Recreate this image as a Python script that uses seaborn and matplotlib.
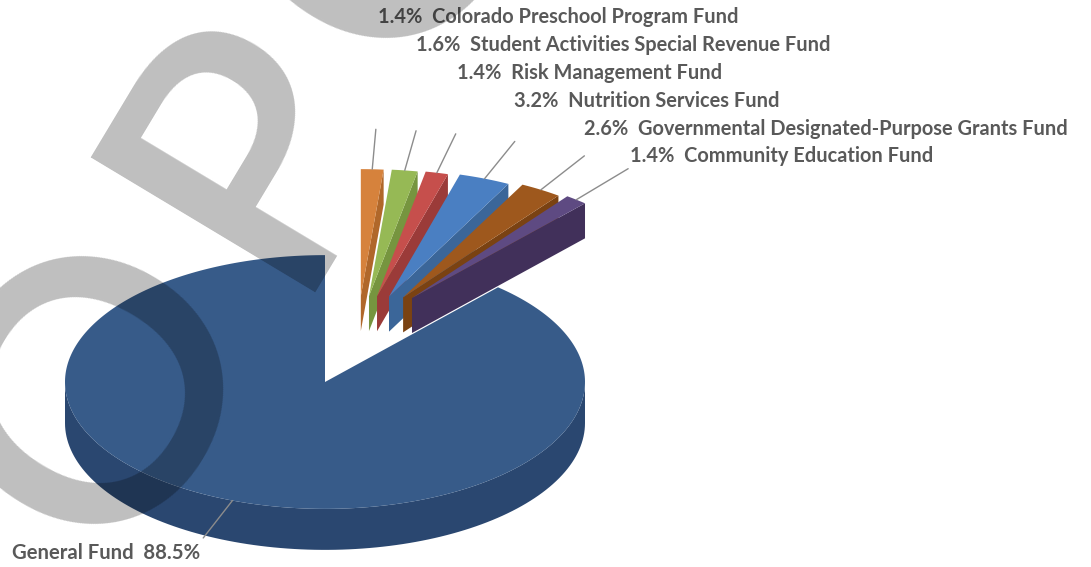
import numpy as np
import matplotlib
matplotlib.use("Agg")
import matplotlib.pyplot as plt
from matplotlib.patches import Polygon
from matplotlib.textpath import TextPath
from matplotlib.font_manager import FontProperties
import seaborn as sns

# Budget share by fund, in clockwise order starting at 12 o'clock
funds = [
    "Colorado Preschool Program Fund",
    "Student Activities Special Revenue Fund",
    "Risk Management Fund",
    "Nutrition Services Fund",
    "Governmental Designated-Purpose Grants Fund",
    "Community Education Fund",
    "General Fund",
]
shares = [1.4, 1.6, 1.4, 3.2, 2.6, 1.4, 88.5]

top_colors = ["#d6823c", "#96b955", "#c64f4c", "#4a7fc2", "#9e581d", "#5e4a82", "#375b89"]
side_colors = ["#b0672a", "#76953f", "#9b3b39", "#3b6699", "#7a4212", "#41305a", "#2a4770"]

sns.set_theme(style="white")
plt.rcParams["font.family"] = ["Lato", "DejaVu Sans"]

W, H = 1091, 567
fig = plt.figure(figsize=(W / 100, H / 100), dpi=100)
ax = fig.add_axes([0, 0, 1, 1])
ax.set_xlim(0, W)
ax.set_ylim(H, 0)
ax.axis("off")

# 3-D pie projection parameters (screen units)
cx, cy = 325.0, 382.0
R = 260.0
K = 0.488          # vertical squash of the tilted disc
DEPTH = 41.0       # thickness of the main disc
DEPTH_EX = 35.0    # thickness of the pulled-out slices
LEADER = 82.0


def proj(r, a, ox=0.0, oy=0.0, z=0.0):
    a = np.radians(a)
    return np.column_stack([cx + ox + r * np.cos(a), cy + oy - r * K * np.sin(a) + z])


total = float(sum(shares))
sweeps = [s / total * 360.0 for s in shares]
starts = 90.0 - np.concatenate([[0.0], np.cumsum(sweeps)[:-1]])
ends = starts - np.array(sweeps)

label_color = "#595959"
label_pos = [(378, 17), (416, 45), (457, 73), (514, 101), (584, 129), (630, 156)]

# pulled-out slices
for i in range(len(funds) - 1):
    a0, a1 = starts[i], ends[i]
    mid = 0.5 * (a0 + a1)
    m = np.radians(mid)
    ox = 32.0 + 87.0 * np.cos(m)
    oy = -77.0 - 9.0 * np.sin(m)
    tip = np.array([[cx + ox, cy + oy]])
    arc = proj(R, np.linspace(a0, a1, 30), ox, oy)
    edge = proj(R, np.array([a1]), ox, oy)
    side = np.vstack([tip, edge, edge + [0, DEPTH_EX], tip + [0, DEPTH_EX]])
    ax.add_patch(Polygon(side, closed=True, fc=side_colors[i], ec="none", zorder=2 + i))
    ax.add_patch(Polygon(np.vstack([tip, arc]), closed=True, fc=top_colors[i], ec="none",
                         zorder=2 + i))
    p_in = proj(R, np.array([mid]), ox, oy)[0]
    p_out = proj(R + LEADER, np.array([mid]), ox, oy)[0]
    ax.plot([p_in[0], p_out[0]], [p_in[1], p_out[1]], color="#8c8c8c", lw=1.0, zorder=12)
    lx, ly = label_pos[i]
    ax.text(lx, ly, f"{shares[i]:.1f}%  {funds[i]}", ha="left", va="center",
            fontsize=14.4, fontweight="bold", color=label_color, zorder=20)

# main disc (General Fund)
g = len(funds) - 1
a0, a1 = starts[g], ends[g]
front = np.linspace(-180.0, 0.0, 120)
band = np.vstack([proj(R, front), proj(R, front[::-1], z=DEPTH)])
ax.add_patch(Polygon(band, closed=True, fc=side_colors[g], ec="none", zorder=10))
top = np.vstack([[[cx, cy]], proj(R, np.linspace(a0, a1, 300))])
ax.add_patch(Polygon(top, closed=True, fc=top_colors[g], ec="none", zorder=11))
mid = 0.5 * (a0 + a1)
p_in = proj(R, np.array([mid]))[0]
p_out = proj(R + LEADER, np.array([mid]))[0]
ax.plot([p_in[0], p_out[0]], [p_in[1], p_out[1]], color="#8c8c8c", lw=1.0, zorder=12)
ax.text(12, 553, f"{funds[g]}  {shares[g]:.1f}%", ha="left", va="center",
        fontsize=14.6, fontweight="bold", color=label_color, zorder=20)

# watermark: tracked-out diagonal lettering, one glyph at a time along the baseline
word = "PROPOSED"
wm_font = FontProperties(family="Lato", weight="semibold", size=262)
ink_w = np.array([TextPath((0, 0), ch, prop=wm_font).get_extents().width * 100 / 72
                  for ch in word])
tracking = 62.0
angle = 59.0
u = np.array([np.cos(np.radians(angle)), -np.sin(np.radians(angle))])
origin = np.array([285.0, 292.0])   # baseline-left corner of the fourth letter
steps = np.concatenate([[0.0], np.cumsum(ink_w + tracking)[:-1]])
steps -= steps[3]
for ch, s in zip(word, steps):
    x, y = origin + s * u
    ax.text(x, y, ch, rotation=angle, rotation_mode="anchor", ha="left", va="baseline",
            fontproperties=wm_font, color="black", alpha=0.255, zorder=30)

fig.savefig("out.png", dpi=100)
